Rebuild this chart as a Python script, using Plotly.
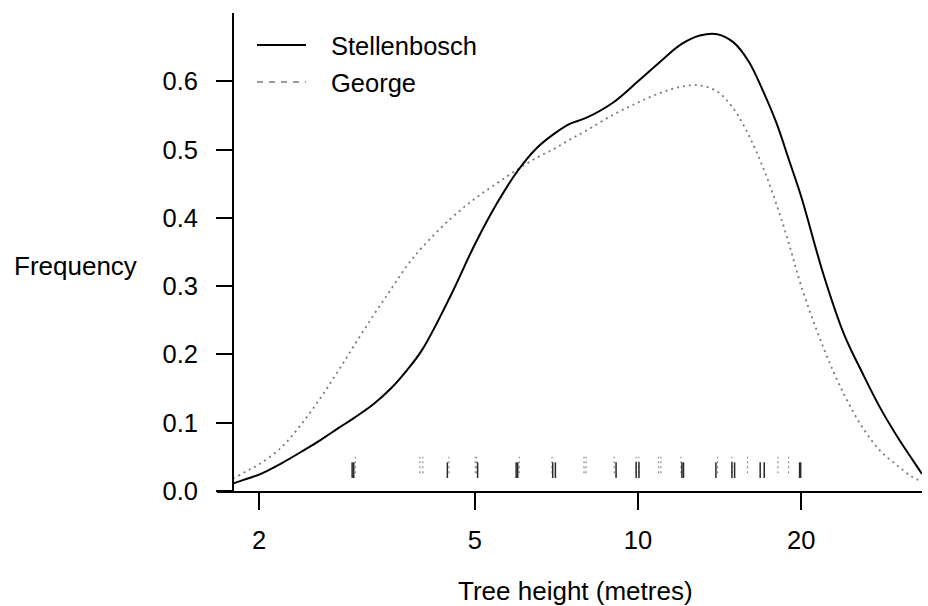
import math
import plotly.graph_objects as go

# ---- data ----
height_grid = [1.79, 1.8, 1.9, 2.0, 2.2, 2.4, 2.6, 2.8, 3.0, 3.25, 3.5, 3.75, 4.0, 4.5, 5.0,
               5.5, 6.0, 6.5, 7.0, 7.5, 8.0, 9.0, 10.0, 11.0, 12.0, 13.0, 14.0, 15.0, 16.0,
               17.0, 18.0, 19.0, 20.0, 22.0, 24.0, 26.0, 28.0, 30.0, 32.0, 33.4]

stellenbosch_density = [0.011, 0.0116, 0.018, 0.024, 0.0406, 0.058, 0.075, 0.092, 0.1075, 0.127,
                        0.150, 0.177, 0.207, 0.284, 0.361, 0.422, 0.469, 0.502, 0.523, 0.538,
                        0.546, 0.569, 0.600, 0.629, 0.654, 0.667, 0.669, 0.657, 0.629, 0.586,
                        0.539, 0.484, 0.431, 0.316, 0.229, 0.171, 0.121, 0.081, 0.047, 0.025]

george_density = [0.0185, 0.019, 0.0295, 0.039, 0.064, 0.099, 0.137, 0.176, 0.214, 0.257,
                  0.295, 0.330, 0.357, 0.398, 0.428, 0.451, 0.471, 0.488, 0.501, 0.515,
                  0.527, 0.551, 0.569, 0.583, 0.592, 0.594, 0.585, 0.560, 0.521, 0.474,
                  0.420, 0.361, 0.300, 0.209, 0.141, 0.092, 0.0585, 0.038, 0.021, 0.014]

stellenbosch_rug = [2.97, 2.99, 4.45, 5.06, 5.96, 6.0, 6.96, 7.04, 9.11, 9.92, 10.04, 12.05,
                    12.13, 13.92, 14.9, 15.07, 16.8, 17.09, 19.86, 19.95]
george_rug = [3.01, 3.96, 4.01, 4.48, 5.01, 5.04, 6.04, 6.94, 7.95, 8.02, 9.04, 9.92, 10.03,
              10.91, 11.02, 12.0, 14.02, 14.9, 15.92, 18.11, 18.95]

x_tick_vals = [2, 5, 10, 20]
x_tick_text = ["2", "5", "10", "20"]
y_tick_vals = [0.0, 0.1, 0.2, 0.3, 0.4, 0.5, 0.6]
y_tick_text = ["0.0", "0.1", "0.2", "0.3", "0.4", "0.5", "0.6"]

series_names = ["Stellenbosch", "George"]
x_title = "Tree height (metres)"
y_title = "Frequency"

# ---- style constants ----
FONT = "Liberation Sans, Arial, sans-serif"
FS = 25.5
W, H = 928, 606
L, R, T, B = 217, 6, 13, 115
PW, PH = W - L - R, H - T - B

def px_x(p):
    return (p - L) / PW

def px_y(p):
    return (H - B - p) / PH

RUG_S = (0.019, 0.042)
RUG_G = (0.026, 0.050)

def rug_xy(vals, lo, hi):
    xs, ys = [], []
    for v in vals:
        xs += [v, v, None]
        ys += [lo, hi, None]
    return xs, ys

fig = go.Figure()

fig.add_trace(go.Scatter(x=height_grid, y=george_density, mode="lines",
                         line=dict(color="#7a7a7a", width=1.8, dash="2px,4px", shape="spline"),
                         name=series_names[1], showlegend=False))
fig.add_trace(go.Scatter(x=height_grid, y=stellenbosch_density, mode="lines",
                         line=dict(color="black", width=2, shape="spline"),
                         name=series_names[0], showlegend=False))

gx, gy = rug_xy(george_rug, *RUG_G)
fig.add_trace(go.Scatter(x=gx, y=gy, mode="lines",
                         line=dict(color="#8a8a8a", width=1.2, dash="2px,3px"),
                         showlegend=False, hoverinfo="skip"))
sx, sy = rug_xy(stellenbosch_rug, *RUG_S)
fig.add_trace(go.Scatter(x=sx, y=sy, mode="lines",
                         line=dict(color="#2a2a2a", width=1.5),
                         showlegend=False, hoverinfo="skip"))

# manual legend
fig.add_shape(type="line", xref="paper", yref="paper",
              x0=px_x(257), x1=px_x(306), y0=px_y(45), y1=px_y(45),
              line=dict(color="black", width=2))
fig.add_shape(type="line", xref="paper", yref="paper",
              x0=px_x(257), x1=px_x(306), y0=px_y(82), y1=px_y(82),
              line=dict(color="#7a7a7a", width=1.5, dash="6px,6px"))
fig.add_annotation(text=series_names[0], xref="paper", yref="paper",
                   x=px_x(329), y=px_y(46), xanchor="left", yanchor="middle",
                   showarrow=False, font=dict(family=FONT, size=FS, color="black"))
fig.add_annotation(text=series_names[1], xref="paper", yref="paper",
                   x=px_x(329), y=px_y(83), xanchor="left", yanchor="middle",
                   showarrow=False, font=dict(family=FONT, size=FS, color="black"))

# axis titles
fig.add_annotation(text=y_title, xref="paper", yref="paper",
                   x=px_x(75), y=px_y(266), xanchor="center", yanchor="middle",
                   showarrow=False, font=dict(family=FONT, size=FS + 0.5, color="black"))
fig.add_annotation(text=x_title, xref="paper", yref="paper",
                   x=px_x(575), y=px_y(591), xanchor="center", yanchor="middle",
                   showarrow=False, font=dict(family=FONT, size=FS + 0.5, color="black"))

fig.update_layout(
    width=W, height=H,
    margin=dict(l=L, r=R, t=T, b=B, pad=0),
    paper_bgcolor="white", plot_bgcolor="white",
    font=dict(family=FONT, size=FS, color="black"),
    showlegend=False,
    xaxis=dict(type="log", range=[math.log10(1.673), math.log10(33.4)],
               tickvals=x_tick_vals, ticktext=x_tick_text,
               showgrid=False, zeroline=False, showline=True, linecolor="black", linewidth=1.8,
               ticks="outside", ticklen=17, tickwidth=1.8, tickcolor="black",
               ticklabelstandoff=8, tickfont=dict(family=FONT, size=FS)),
    yaxis=dict(range=[0, 0.7], anchor="free", position=px_x(233),
               tickvals=y_tick_vals, ticktext=y_tick_text,
               showgrid=False, zeroline=False, showline=True, linecolor="black", linewidth=1.8,
               ticks="outside", ticklen=16, tickwidth=1.8, tickcolor="black",
               ticklabelstandoff=13, tickfont=dict(family=FONT, size=FS)),
)

fig.write_html("out.html", config={"displayModeBar": False},
               post_script="document.body.style.margin='0';document.body.style.overflow='hidden';")
